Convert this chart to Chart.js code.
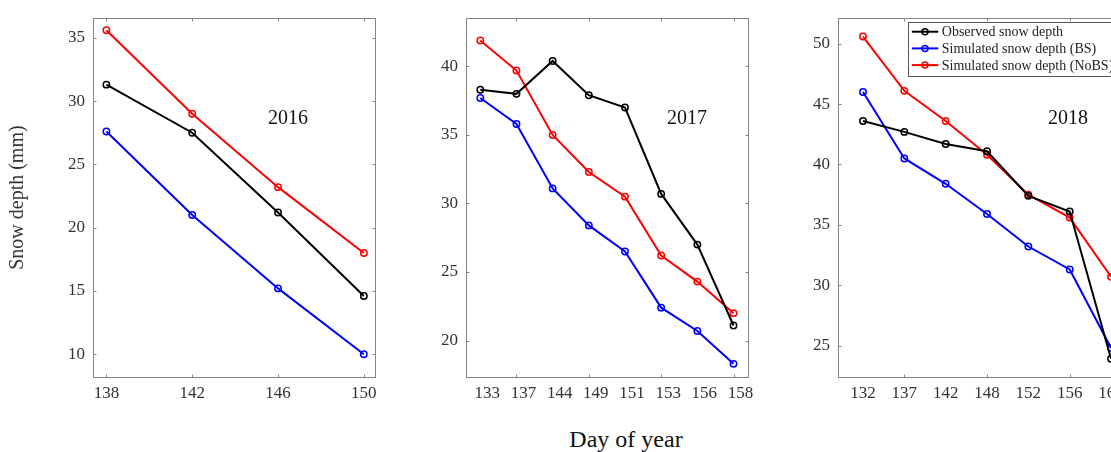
<!DOCTYPE html>
<html>
<head>
<meta charset="utf-8">
<script src="https://cdn.jsdelivr.net/npm/chart.js@4.4.1/dist/chart.umd.min.js"></script>
<style>
  html, body { margin: 0; padding: 0; background: #fff; overflow: hidden; width: 1111px; height: 452px; }
  .panel { position: absolute; top: 0; }
  #xtitle {
    position: absolute; left: 626px; top: 425px; transform: translateX(-50%);
    font: 24px "Liberation Serif", serif; line-height: 28px; color: #111; white-space: nowrap;
  }
</style>
</head>
<body>
<canvas class="panel" id="c2016" width="395" height="410" style="left:0px"></canvas>
<canvas class="panel" id="c2017" width="388" height="410" style="left:380px"></canvas>
<canvas class="panel" id="c2018" width="395" height="410" style="left:760px"></canvas>
<div id="xtitle">Day of year</div>

<script>
// series names
const seriesNames = ['Observed snow depth', 'Simulated snow depth (BS)', 'Simulated snow depth (NoBS)'];
const seriesColors = ['#000000', '#0000ff', '#ff0000'];

// 2016
const days2016 = ['138', '142', '146', '150'];
const obs2016 = [31.3, 27.5, 21.2, 14.6];
const bs2016 = [27.6, 21.0, 15.2, 10.0];
const nobs2016 = [35.6, 29.0, 23.2, 18.0];

// 2017
const days2017 = ['133', '137', '144', '149', '151', '153', '156', '158'];
const obs2017 = [38.3, 38.0, 40.4, 37.9, 37.0, 30.7, 27.0, 21.1];
const bs2017 = [37.7, 35.8, 31.1, 28.4, 26.5, 22.4, 20.7, 18.3];
const nobs2017 = [41.9, 39.7, 35.0, 32.3, 30.5, 26.2, 24.3, 22.0];

// 2018
const days2018 = ['132', '137', '142', '148', '152', '156', '160'];
const obs2018 = [43.6, 42.7, 41.7, 41.1, 37.4, 36.1, 23.9];
const bs2018 = [46.0, 40.5, 38.4, 35.9, 33.2, 31.3, 24.8];
const nobs2018 = [50.6, 46.1, 43.6, 40.8, 37.5, 35.6, 30.7];

const FONT = '"Liberation Serif", "Times New Roman", serif';
const FRAME = '#858585';

// box around the plot with inward ticks, MATLAB style
const framePlugin = {
  id: 'frame',
  beforeDatasetsDraw(chart, args, opts) {
    const { ctx, chartArea: a } = chart;
    const l = Math.round(a.left) + 0.5, r = Math.round(a.right) + 0.5;
    const t = Math.round(a.top) + 0.5, b = Math.round(a.bottom) + 0.5;
    ctx.save();
    ctx.strokeStyle = FRAME;
    ctx.lineWidth = 1;
    ctx.strokeRect(l, t, r - l, b - t);
    ctx.beginPath();
    const ys = chart.scales.y;
    ys.ticks.forEach(tk => {
      const py = Math.round(ys.getPixelForValue(tk.value)) + 0.5;
      ctx.moveTo(l, py); ctx.lineTo(l + 3, py);
      ctx.moveTo(r, py); ctx.lineTo(r - 3, py);
    });
    const xs = chart.scales.x;
    xs.ticks.forEach(tk => {
      if (tk.value % opts.every !== opts.from) return;
      const px = Math.round(xs.getPixelForValue(tk.value)) + 0.5;
      ctx.moveTo(px, b); ctx.lineTo(px, b - 3);
      ctx.moveTo(px, t); ctx.lineTo(px, t + 3);
    });
    ctx.stroke();
    ctx.restore();
  }
};

// year label inside each panel
const yearPlugin = {
  id: 'yearTag',
  afterDatasetsDraw(chart, args, opts) {
    const ctx = chart.ctx;
    ctx.save();
    ctx.font = '20px ' + FONT;
    ctx.fillStyle = '#111';
    ctx.textAlign = 'center';
    ctx.textBaseline = 'middle';
    ctx.fillText(opts.text, opts.x, opts.y);
    ctx.restore();
  }
};

// boxed legend with line + circle samples
const boxLegend = {
  id: 'boxLegend',
  afterDatasetsDraw(chart, args, opts) {
    if (!opts.display) return;
    const ctx = chart.ctx;
    const sets = chart.data.datasets;
    ctx.save();
    ctx.font = '14px ' + FONT;
    const tw = Math.max(...sets.map(d => ctx.measureText(d.label).width));
    const w = 34 + tw + 4, h = 54;
    ctx.fillStyle = '#fff';
    ctx.fillRect(opts.x, opts.y, w, h);
    ctx.strokeStyle = '#555';
    ctx.lineWidth = 1;
    ctx.strokeRect(Math.round(opts.x) + 0.5, Math.round(opts.y) + 0.5, w, h);
    sets.forEach((d, i) => {
      const cy = opts.y + 10 + i * 16.7;
      ctx.strokeStyle = d.borderColor;
      ctx.lineWidth = 2;
      ctx.beginPath();
      ctx.moveTo(opts.x + 3.5, cy); ctx.lineTo(opts.x + 30, cy);
      ctx.stroke();
      ctx.lineWidth = 1.5;
      ctx.beginPath();
      ctx.arc(opts.x + 16.7, cy, 3, 0, Math.PI * 2);
      ctx.stroke();
      ctx.fillStyle = '#222';
      ctx.textBaseline = 'middle';
      ctx.fillText(d.label, opts.x + 33.5, cy + 1);
    });
    ctx.restore();
  }
};

function makeDataset(i, values) {
  return {
    label: seriesNames[i],
    data: values.map((v, k) => ({ x: k, y: v })),
    borderColor: seriesColors[i],
    borderWidth: 2,
    pointRadius: 3.2,
    pointBorderWidth: 1.5,
    pointBackgroundColor: 'rgba(0,0,0,0)',
    pointBorderColor: seriesColors[i],
    tension: 0
  };
}

function makeChart(id, days, obs, bs, nobs, cfg) {
  new Chart(document.getElementById(id).getContext('2d'), {
    type: 'line',
    data: {
      datasets: [makeDataset(0, obs), makeDataset(1, bs), makeDataset(2, nobs)]
    },
    options: {
      responsive: false,
      animation: false,
      events: [],
      layout: { padding: { top: 12, right: cfg.padRight, left: 0, bottom: 0 } },
      scales: {
        x: {
          type: 'linear',
          min: cfg.xmin,
          max: cfg.xmax,
          grid: { display: false, drawTicks: false },
          border: { display: false },
          afterBuildTicks: s => { s.ticks = days.map((d, k) => ({ value: k })); },
          afterFit: s => { s.height = 33; },
          ticks: {
            autoSkip: false,
            maxRotation: 0,
            padding: 6,
            labelOffset: cfg.labelOffset,
            color: '#333',
            font: { family: FONT, size: 17 },
            callback: v => days[v]
          }
        },
        y: {
          min: cfg.ymin,
          max: cfg.ymax,
          grid: { display: false, drawTicks: false },
          border: { display: false },
          afterFit: s => { s.width = cfg.yWidth; },
          ticks: {
            stepSize: 5,
            includeBounds: false,
            padding: 8,
            color: '#333',
            font: { family: FONT, size: 17 }
          },
          title: {
            display: !!cfg.yTitle,
            text: cfg.yTitle || '',
            color: '#333',
            padding: { top: 6, bottom: 0 },
            font: { family: FONT, size: 20 }
          }
        }
      },
      plugins: {
        legend: { display: false },
        tooltip: { enabled: false },
        frame: { every: cfg.markEvery, from: cfg.markFrom },
        yearTag: cfg.year,
        boxLegend: cfg.legend || { display: false }
      }
    },
    plugins: [framePlugin, yearPlugin, boxLegend]
  });
}

makeChart('c2016', days2016, obs2016, bs2016, nobs2016, {
  yWidth: 93, padRight: 20, xmin: -0.156, xmax: 3.13, ymin: 8.2, ymax: 36.55,
  labelOffset: 0, markEvery: 1, markFrom: 0, yTitle: 'Snow depth (mm)',
  year: { text: '2016', x: 288, y: 119 }
});

makeChart('c2017', days2017, obs2017, bs2017, nobs2017, {
  yWidth: 86, padRight: 20, xmin: -0.395, xmax: 7.4, ymin: 17.34, ymax: 43.52,
  labelOffset: 7, markEvery: 2, markFrom: 1,
  year: { text: '2017', x: 307, y: 119 }
});

makeChart('c2018', days2018, obs2018, bs2018, nobs2018, {
  yWidth: 78, padRight: 20, xmin: -0.605, xmax: 6.58, ymin: 22.39, ymax: 52.12,
  labelOffset: 0, markEvery: 2, markFrom: 1,
  year: { text: '2018', x: 308, y: 119 },
  legend: { display: true, x: 148.3, y: 21.7 }
});
</script>
</body>
</html>
